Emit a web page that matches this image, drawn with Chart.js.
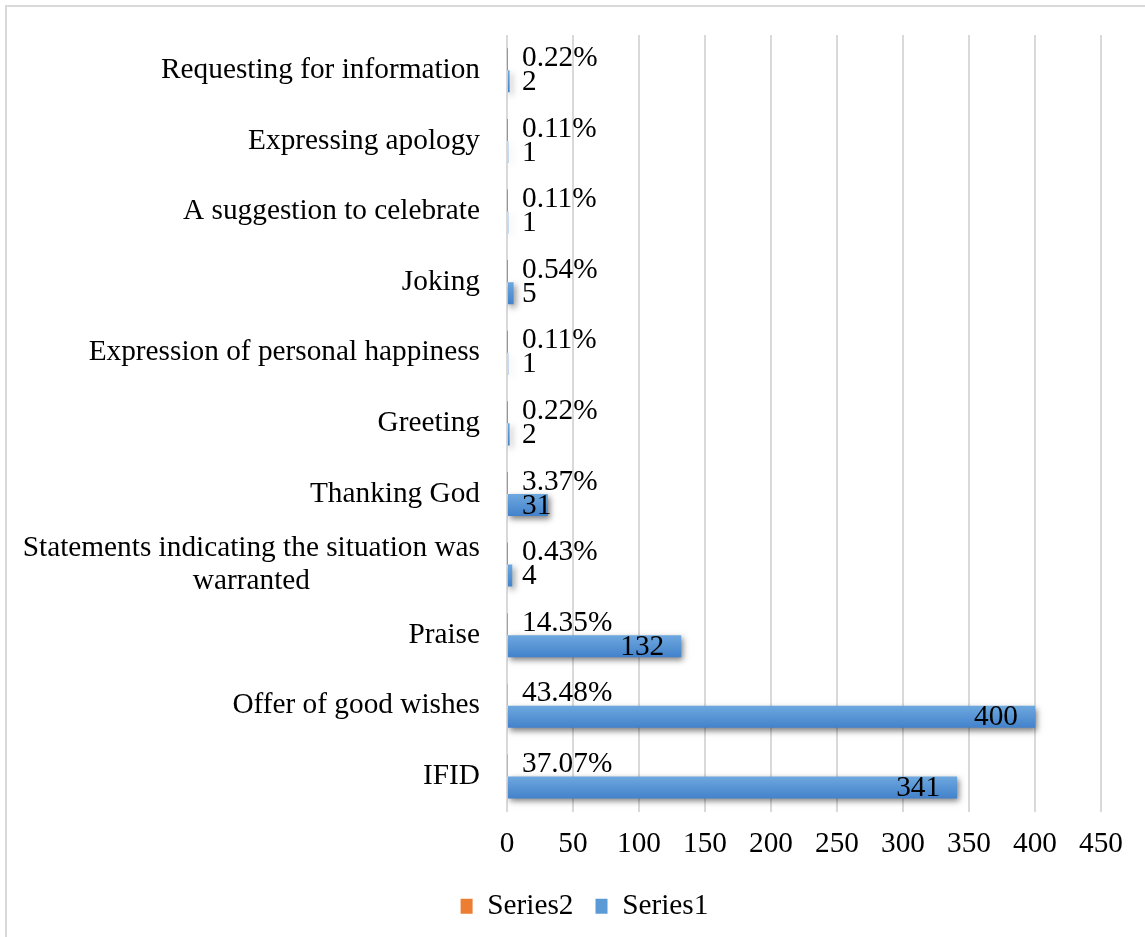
<!DOCTYPE html>
<html>
<head>
<meta charset="utf-8">
<title>Compliment responses</title>
<script src="https://cdn.jsdelivr.net/npm/chart.js@4.4.1/dist/chart.umd.min.js"></script>
<style>
  html, body { margin: 0; padding: 0; background: #fff; }
  #wrap { width: 1145px; height: 937px; }
</style>
</head>
<body>
<div id="wrap"><canvas id="respChart" width="1145" height="937"></canvas></div>
<script>
// Categories run bottom-up (first entry sits at the bottom of the chart)
const categories = [
    'IFID',
    'Offer of good wishes',
    'Praise',
    ['Statements indicating the situation was', 'warranted'],
    'Thanking God',
    'Greeting',
    'Expression of personal happiness',
    'Joking',
    'A suggestion to celebrate',
    'Expressing apology',
    'Requesting for information'
];
// Series1: counts, Series2: share of total (fraction)
const series1 = [341, 400, 132, 4, 31, 2, 1, 5, 1, 1, 2];
const series2 = [0.3707, 0.4348, 0.1435, 0.0043, 0.0337, 0.0022, 0.0011, 0.0054, 0.0011, 0.0011, 0.0022];
const xTicks = [0, 50, 100, 150, 200, 250, 300, 350, 400, 450];

const FONT_FAMILY = '"Liberation Serif", "Times New Roman", serif';
const FONT_SIZE = 29.3;
const BLUE = '#5b9bd5';
const ORANGE = '#ed7d31';
const GRID = '#d9d9d9';

// Blue bars get a vertical gradient, lighter on top
function barFill(c) {
    const chart = c.chart;
    const y = chart.scales && chart.scales.y;
    if (!y || c.dataIndex === undefined || !chart.chartArea) return BLUE;
    const cy = y.getPixelForValue(c.dataIndex);
    const g = chart.ctx.createLinearGradient(0, cy, 0, cy + 22);
    g.addColorStop(0, '#6ea8df');
    g.addColorStop(1, '#4382cb');
    return g;
}

// Frame around the whole chart
const frame = {
    id: 'frame',
    beforeDraw(chart) {
        const ctx = chart.ctx;
        ctx.save();
        ctx.fillStyle = '#fff';
        ctx.fillRect(0, 0, chart.width, chart.height);
        ctx.strokeStyle = GRID;
        ctx.lineWidth = 2;
        ctx.strokeRect(6, 6, chart.width + 20, chart.height + 20);
        ctx.restore();
    }
};

// Move the legend a little right of the plot centre and down
const legendShift = {
    id: 'legendShift',
    afterLayout(chart) {
        const lg = chart.legend;
        if (lg) {
            lg.left += 34;
            lg.right += 34;
            lg.top += 4;
            lg.bottom += 4;
        }
    }
};

// Drop shadow under the Series1 bars
const barShadow = {
    id: 'barShadow',
    beforeDatasetDraw(chart, args) {
        const ctx = chart.ctx;
        ctx.save();
        if (args.index === 1) {
            ctx.shadowColor = 'rgba(0,0,0,0.5)';
            ctx.shadowBlur = 6;
            ctx.shadowOffsetX = 2;
            ctx.shadowOffsetY = 3;
        }
    },
    afterDatasetDraw(chart) {
        chart.ctx.restore();
    }
};

// Category names, wrapped lines centred within their block
const catLabels = {
    id: 'catLabels',
    afterDraw(chart) {
        const ctx = chart.ctx;
        const y = chart.scales.y;
        const right = y.right - 27;
        ctx.save();
        ctx.font = `${FONT_SIZE}px ${FONT_FAMILY}`;
        ctx.fillStyle = '#000';
        ctx.textBaseline = 'middle';
        ctx.textAlign = 'center';
        categories.forEach((lab, i) => {
            const lines = Array.isArray(lab) ? lab : [lab];
            const w = Math.max(...lines.map(l => ctx.measureText(l).width));
            const cy = y.getPixelForValue(i);
            lines.forEach((l, k) => {
                ctx.fillText(l, right - w / 2, cy + (k - (lines.length - 1) / 2) * 33);
            });
        });
        ctx.restore();
    }
};

// Value labels: percentages above, counts at the inside end of each bar
const barLabels = {
    id: 'barLabels',
    afterDatasetsDraw(chart) {
        const ctx = chart.ctx;
        const base = chart.scales.x.getPixelForValue(0);
        ctx.save();
        ctx.font = `${FONT_SIZE}px ${FONT_FAMILY}`;
        ctx.fillStyle = '#000';
        ctx.textBaseline = 'middle';
        ctx.textAlign = 'left';
        chart.getDatasetMeta(0).data.forEach((bar, i) => {
            ctx.fillText((series2[i] * 100).toFixed(2) + '%', base + 15, bar.y - 1);
        });
        chart.getDatasetMeta(1).data.forEach((bar, i) => {
            const txt = String(series1[i]);
            const w = ctx.measureText(txt).width;
            const left = Math.max(bar.x - 17 - w, base + 15);
            ctx.fillText(txt, left, bar.y + 1);
        });
        ctx.restore();
    }
};

const ctx = document.getElementById('respChart').getContext('2d');
new Chart(ctx, {
    type: 'bar',
    data: {
        labels: categories,
        datasets: [
            { label: 'Series2', data: series2, backgroundColor: ORANGE },
            { label: 'Series1', data: series1, backgroundColor: barFill }
        ]
    },
    options: {
        indexAxis: 'y',
        responsive: false,
        animation: false,
        events: [],
        categoryPercentage: 0.624,
        barPercentage: 1.0,
        layout: { padding: { top: 35, right: 44, bottom: 10, left: 0 } },
        scales: {
            x: {
                min: 0,
                max: 450,
                afterBuildTicks: s => { s.ticks = xTicks.map(v => ({ value: v })); },
                afterFit: s => { s.height = 54; },
                grid: { color: GRID, lineWidth: 2, drawTicks: false },
                border: { display: false },
                ticks: {
                    padding: 15,
                    color: '#000',
                    font: { family: FONT_FAMILY, size: FONT_SIZE }
                }
            },
            y: {
                reverse: true,
                afterFit: s => { s.width = 507; },
                grid: { display: false },
                border: { display: false },
                ticks: { color: 'rgba(0,0,0,0)', font: { family: FONT_FAMILY, size: FONT_SIZE } }
            }
        },
        plugins: {
            tooltip: { enabled: false },
            legend: {
                position: 'bottom',
                labels: {
                    boxWidth: 12,
                    boxHeight: 15,
                    padding: 22,
                    color: '#000',
                    font: { family: FONT_FAMILY, size: FONT_SIZE },
                    generateLabels: chart => chart.data.datasets.map((d, i) => ({
                        text: d.label,
                        fillStyle: i === 1 ? BLUE : ORANGE,
                        strokeStyle: 'rgba(0,0,0,0)',
                        lineWidth: 0,
                        datasetIndex: i
                    }))
                }
            }
        }
    },
    plugins: [frame, legendShift, barShadow, catLabels, barLabels]
});
</script>
</body>
</html>
